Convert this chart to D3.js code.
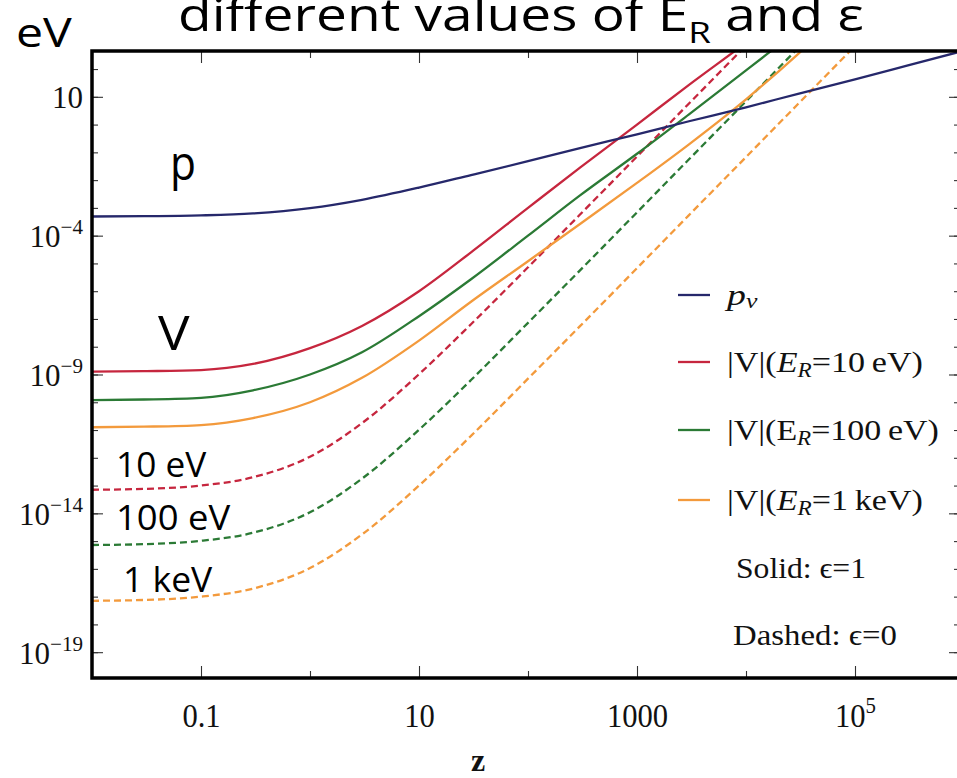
<!DOCTYPE html>
<html>
<head>
<meta charset="utf-8">
<script src="https://cdn.jsdelivr.net/npm/d3@7"></script>
<style>
  html, body { margin: 0; padding: 0; background: #fff; }
  svg { display: block; }
  .serif { font-family: "Liberation Serif", "Times New Roman", serif; fill: #111; }
  .hand { font-family: "Comic Sans MS", "Open Sans", "Noto Sans", sans-serif; fill: #000; }
</style>
</head>
<body>
<svg id="chart" width="957" height="778"></svg>
<script>
// redshift grid shared by every curve
const zValues = [0.01, 0.03, 0.1, 0.3, 1, 3, 10, 30, 100, 300, 1000, 3000, 1e4, 3e4, 1e5, 3e5, 1e6];

// log10 of the quantity in eV at each z
const pNuLog        = [-3.31, -3.30, -3.27, -3.20, -3.01, -2.71, -2.27, -1.82, -1.32, -0.85, -0.35, 0.12, 0.62, 1.11, 1.63, 2.12, 2.66];
const v10SolidLog   = [-8.90, -8.88, -8.84, -8.62, -8.05, -7.25, -6.00, -4.60, -3.00, -1.55, 0.00, 1.43, 2.95, 4.40, 5.95, 7.40, 8.95];
const v100SolidLog  = [-9.92, -9.90, -9.84, -9.57, -9.00, -8.20, -6.90, -5.57, -4.00, -2.55, -1.05, 0.37, 1.95, 3.40, 4.95, 6.40, 7.95];
const v1kSolidLog   = [-10.90, -10.88, -10.82, -10.57, -10.00, -9.12, -7.78, -6.38, -4.92, -3.58, -2.10, -0.71, 0.91, 2.54, 4.48, 6.30, 8.30];
const v10DashLog    = [-13.15, -13.12, -13.00, -12.70, -11.96, -10.75, -8.99, -7.19, -5.14, -3.24, -1.15, 0.76, 2.85, 4.76, 6.85, 8.76, 10.85];
const v100DashLog   = [-15.14, -15.11, -14.99, -14.70, -13.96, -12.75, -10.99, -9.20, -7.14, -5.25, -3.16, -1.25, 0.84, 2.75, 4.84, 6.75, 8.84];
const v1kDashLog    = [-17.15, -17.12, -17.00, -16.71, -15.97, -14.76, -13.00, -11.21, -9.15, -7.26, -5.17, -3.26, -1.17, 0.74, 2.83, 4.73, 6.83];

// axis tick values
const xMajorTicks = [0.1, 10, 1000, 1e5];
const xMinorTicks = [0.01, 1, 100, 1e4, 1e6];
const xTickLabels = ["0.1", "10", "1000", "10^5"];
const yMajorTicks = [1e1, 1e-4, 1e-9, 1e-14, 1e-19];
const yTickLabels = ["10", "10^−4", "10^−9", "10^−14", "10^−19"];
const yMinorTicks = d3.range(-19, 3).map(k => Math.pow(10, k));

const W = 957, H = 778;
const plotL = 92, plotT = 51, plotB = 678, plotR = 960;

const svg = d3.select("#chart");

const x = d3.scaleLog().domain([0.01, 1e6]).range([plotL, 964]);
const y = d3.scaleLog().domain([Math.pow(10, -19.93), Math.pow(10, 2.65)]).range([plotB, plotT]);

const colors = {
  p: "#26286b",
  v10: "#c6263e",
  v100: "#2b7a35",
  v1k: "#f39a3c"
};

// place a left-anchored text at (px, py) and stretch it horizontally to a given width
function placeText(sel, px, py, width) {
  sel.attr("x", 0).attr("y", 0);
  const w = sel.node().getBBox().width;
  const s = width ? width / w : 1;
  sel.attr("transform", `translate(${px},${py}) scale(${s},1)`);
  return sel;
}

svg.append("defs").append("clipPath").attr("id", "plotClip")
  .append("rect").attr("x", plotL).attr("y", plotT).attr("width", plotR - plotL).attr("height", plotB - plotT);

// ---- ticks (all pointing inward) ----
function styleAxis(g) {
  g.select(".domain").remove();
  g.selectAll(".tick line").attr("stroke", "#333").attr("stroke-width", 1.1);
}

// bottom
svg.append("g").attr("transform", `translate(0,${plotB})`)
  .call(d3.axisBottom(x).tickValues(xMinorTicks).tickSize(-7).tickFormat(""))
  .call(styleAxis);
const xMajor = svg.append("g").attr("transform", `translate(0,${plotB})`)
  .call(d3.axisBottom(x).tickValues(xMajorTicks).tickSize(-12).tickPadding(0).tickFormat((d, i) => xTickLabels[i]))
  .call(styleAxis);
// top
svg.append("g").attr("transform", `translate(0,${plotT})`)
  .call(d3.axisTop(x).tickValues(xMinorTicks).tickSize(-7).tickFormat(""))
  .call(styleAxis);
svg.append("g").attr("transform", `translate(0,${plotT})`)
  .call(d3.axisTop(x).tickValues(xMajorTicks).tickSize(-12).tickFormat(""))
  .call(styleAxis);
// left
svg.append("g").attr("transform", `translate(${plotL},0)`)
  .call(d3.axisLeft(y).tickValues(yMinorTicks).tickSize(-6).tickFormat(""))
  .call(styleAxis);
const yMajor = svg.append("g").attr("transform", `translate(${plotL},0)`)
  .call(d3.axisLeft(y).tickValues(yMajorTicks).tickSize(-11).tickFormat((d, i) => yTickLabels[i]))
  .call(styleAxis);
// right
svg.append("g").attr("transform", `translate(${plotR},0)`)
  .call(d3.axisRight(y).tickValues(yMinorTicks).tickSize(-6).tickFormat(""))
  .call(styleAxis);
svg.append("g").attr("transform", `translate(${plotR},0)`)
  .call(d3.axisRight(y).tickValues(yMajorTicks).tickSize(-11).tickFormat(""))
  .call(styleAxis);

// tick labels with superscript exponents
function powerLabel(textSel, size) {
  textSel.each(function () {
    const t = d3.select(this);
    const raw = t.text();
    t.text(null).attr("class", "serif").attr("font-size", size).attr("fill", "#111");
    const parts = raw.split("^");
    t.append("tspan").text(parts[0]);
    if (parts[1]) {
      t.append("tspan").attr("font-size", size * 0.68).attr("dy", -size * 0.42).text(parts[1]);
    }
  });
}
xMajor.selectAll(".tick text").call(powerLabel, 34).attr("y", 0).attr("dy", null)
  .attr("transform", "translate(0,49) scale(0.9,1)").attr("text-anchor", "middle");
yMajor.selectAll(".tick text").call(powerLabel, 31).attr("x", -9).attr("dy", "0.36em").attr("text-anchor", "end");

// ---- curves ----
const line = d3.line()
  .x((d, i) => x(zValues[i]))
  .y(d => y(Math.pow(10, d)))
  .curve(d3.curveMonotoneX);

const curves = [
  { key: "v1k",  data: v1kDashLog,   dashed: true },
  { key: "v100", data: v100DashLog,  dashed: true },
  { key: "v10",  data: v10DashLog,   dashed: true },
  { key: "v1k",  data: v1kSolidLog,  dashed: false },
  { key: "v100", data: v100SolidLog, dashed: false },
  { key: "v10",  data: v10SolidLog,  dashed: false },
  { key: "p",    data: pNuLog,       dashed: false }
];

const plot = svg.append("g").attr("clip-path", "url(#plotClip)");
plot.selectAll("path.curve").data(curves).enter().append("path")
  .attr("class", "curve")
  .attr("d", d => line(d.data))
  .attr("fill", "none")
  .attr("stroke", d => colors[d.key])
  .attr("stroke-width", 2.3)
  .attr("stroke-dasharray", d => d.dashed ? "7,4" : null);

// ---- frame ----
svg.append("path")
  .attr("d", `M${plotR},${plotT} H${plotL} V${plotB} H${plotR}`)
  .attr("fill", "none").attr("stroke", "#000").attr("stroke-width", 3.5);

// ---- legend ----
const legendRows = [
  { key: "p",    y: 295 },
  { key: "v10",  y: 362 },
  { key: "v100", y: 430 },
  { key: "v1k",  y: 500 }
];
const legend = svg.append("g");
legend.selectAll("line").data(legendRows).enter().append("line")
  .attr("x1", 678).attr("x2", 710)
  .attr("y1", d => d.y).attr("y2", d => d.y)
  .attr("stroke", d => colors[d.key]).attr("stroke-width", 2.3);

const lt = 30;
function legendText() {
  return legend.append("text").attr("class", "serif").attr("font-size", lt);
}
// p_ν
{
  const t = legendText();
  t.append("tspan").attr("font-style", "italic").text("p");
  t.append("tspan").attr("font-style", "italic").attr("font-size", lt * 0.68).attr("dy", 3).text("ν");
  placeText(t, 727, 305, 34);
}
function vLabel(yPos, italicE, value, width) {
  const t = legendText();
  t.append("tspan").text("|V|(");
  t.append("tspan").attr("font-style", italicE ? "italic" : null).text("E");
  t.append("tspan").attr("font-style", "italic").attr("font-size", lt * 0.68).attr("dy", 5).text("R");
  t.append("tspan").attr("dy", -5).text("=" + value + ")");
  placeText(t, 727, yPos + 10, width);
}
vLabel(362, true, "10\u2009eV", 196);
vLabel(430, false, "100\u2009eV", 212);
vLabel(500, true, "1\u2009keV", 196);

placeText(legendText().text("Solid: \u03f5=1"), 736, 578, 130);
placeText(legendText().text("Dashed: \u03f5=0"), 733, 645, 164);

// ---- axis title ----
svg.append("text").attr("class", "serif").attr("x", 478).attr("y", 771)
  .attr("text-anchor", "middle").attr("font-size", 32).attr("font-weight", "bold").text("z");

// ---- hand-written annotations ----
placeText(svg.append("text").attr("class", "hand").attr("font-size", 40).text("eV"), 16, 47, 56);

const title = svg.append("text").attr("class", "hand").attr("font-size", 45);
title.append("tspan").text("different values of E");
title.append("tspan").attr("font-size", 30).attr("dy", 12).text("R");
title.append("tspan").attr("dy", -12).text(" and \u03b5");
placeText(title, 178, 31, 686);

placeText(svg.append("text").attr("class", "hand").attr("font-size", 48).text("p"), 170, 180, 26);
placeText(svg.append("text").attr("class", "hand").attr("font-size", 48).text("V"), 158, 350, 32);
placeText(svg.append("text").attr("class", "hand").attr("font-size", 34).text("10 eV"), 116, 477, 91);
placeText(svg.append("text").attr("class", "hand").attr("font-size", 34).text("100 eV"), 116, 530, 115);
placeText(svg.append("text").attr("class", "hand").attr("font-size", 34).text("1 keV"), 123, 592, 90);
</script>
</body>
</html>
